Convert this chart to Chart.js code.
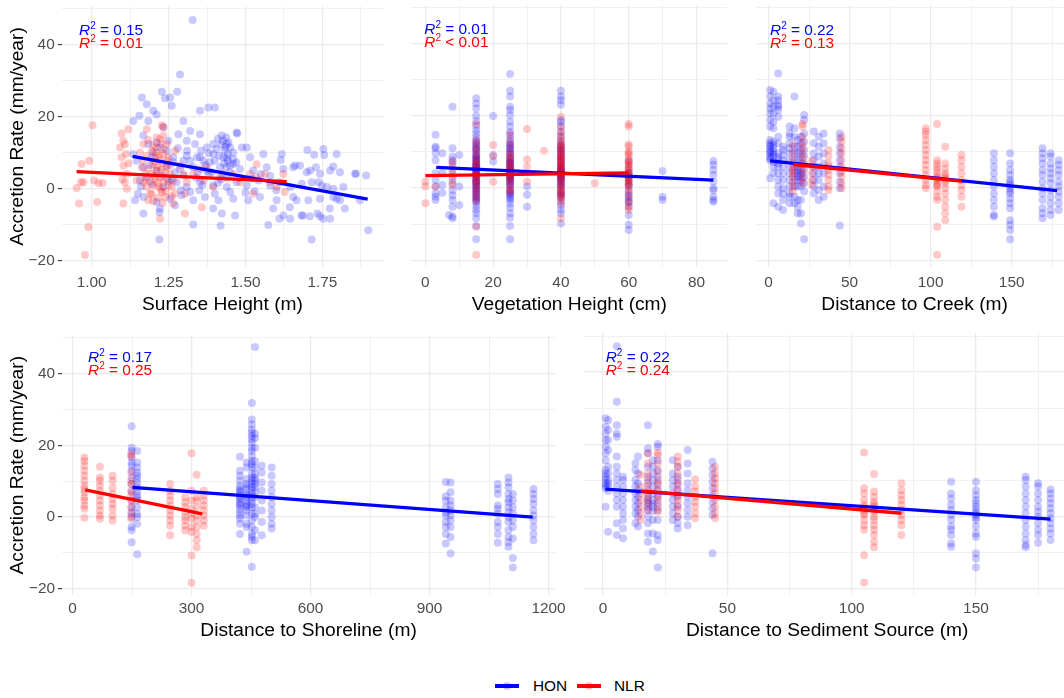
<!DOCTYPE html>
<html><head><meta charset="utf-8">
<script src="https://cdn.jsdelivr.net/npm/chart.js@4.4.0/dist/chart.umd.min.js"></script>
<style>
html,body{margin:0;padding:0;background:#fff;overflow:hidden;width:1064px;height:698px;position:relative;}
.wrap{position:absolute;}
.r2{position:absolute;font-family:'Liberation Sans',Arial,Helvetica,sans-serif;font-size:15.4px;line-height:18px;height:18px;white-space:nowrap;}
.r2 sup{font-size:10px;vertical-align:6px;line-height:0;}
.lg{position:absolute;font-family:'Liberation Sans',Arial,Helvetica,sans-serif;font-size:15.4px;line-height:18px;color:#000;}
</style></head><body>
<script>
// ---------------- DATA ----------------
const yMajor = [-20, 0, 20, 40];

// Panel 1: Surface Height (m)
const surfaceTicks = [1.00, 1.25, 1.50, 1.75];
const surfaceHON = [[1.328,46.9],[1.287,31.7],[1.278,26.9],[1.228,26.9],[1.163,25.3],[1.238,25.1],[1.255,25.3],[1.179,23.4],[1.26,23],[1.352,21.6],[1.379,22.5],[1.4,22.5],[1.2,21.6],[1.211,20.6],[1.155,20.2],[1.184,18.8],[1.298,18.8],[1.135,18.8],[1.233,17],[1.282,15.1],[1.32,16],[1.352,15.1],[1.471,15.6],[1.423,14.7],[1.168,14.7],[1.249,13.3],[1.309,13.3],[1.336,12.4],[1.374,11.4],[1.395,12.4],[1.439,12.4],[1.45,11.4],[1.488,11.4],[1.504,11.4],[1.558,9.6],[1.618,9.6],[1.723,9.4],[1.796,9.6],[1.753,11],[1.135,9.6],[1.146,7.7],[1.195,8.7],[1.265,8.7],[1.309,9.1],[1.352,8.7],[1.395,9.6],[1.428,8.7],[1.46,8.2],[1.515,8.7],[1.168,5.9],[1.211,5],[1.244,6.4],[1.287,5.4],[1.33,5.9],[1.374,5],[1.417,5.9],[1.45,6.4],[1.482,5.4],[1.525,5],[1.569,5.9],[1.623,5.4],[1.655,5.9],[1.677,6.4],[1.71,5],[1.742,4.1],[1.775,5],[1.807,4.5],[1.856,4.1],[1.892,3.6],[1.157,2.2],[1.195,1.3],[1.233,0.4],[1.276,1.7],[1.309,0.4],[1.352,1.7],[1.395,0.8],[1.439,0.4],[1.471,1.7],[1.504,0.8],[1.542,2.2],[1.58,0.8],[1.612,1.7],[1.645,0.4],[1.683,1.3],[1.715,1.7],[1.748,0.8],[1.785,-0.1],[1.818,0.4],[1.141,-3.3],[1.168,-2.4],[1.211,-3.8],[1.255,-2.9],[1.293,-1.9],[1.33,-3.3],[1.368,-2.4],[1.412,-3.3],[1.46,-2.9],[1.509,-3.3],[1.547,-2.4],[1.601,-3.3],[1.655,-2.4],[1.704,-3.3],[1.742,-2.9],[1.785,-2.4],[1.807,-3.3],[1.872,-3.3],[1.168,-7],[1.222,-5.6],[1.271,-4.7],[1.395,-5.6],[1.423,-7],[1.466,-7.5],[1.59,-5.6],[1.61,-8.4],[1.645,-8.4],[1.686,-7.5],[1.734,-7],[1.752,-8.4],[1.775,-8.4],[1.823,-5.6],[1.574,-10.2],[1.419,-10.4],[1.33,-10],[1.22,-6.6],[1.22,-14.2],[1.715,-14.2],[1.899,-11.6],[1.41,13.8],[1.42,12.2],[1.432,10.6],[1.443,9.6],[1.437,14.2],[1.426,13.3],[1.415,9.1],[1.443,7.7],[1.4,7.7],[1.384,7.3],[1.46,6.8],[1.437,5.9],[1.342,8.7],[1.363,7.7],[1.32,7.7],[1.298,7.7],[1.265,7.3],[1.244,10.5],[1.222,11.4],[1.211,12.8],[1.2,10],[1.184,12.4],[1.473,15.3],[1.614,7.9],[1.701,10.7],[1.756,9.3],[1.859,4.1],[1.661,6.4],[1.699,4.5],[1.729,5.9],[1.785,6.1],[1.737,1.7],[1.764,0.4],[1.796,-2.9],[1.774,-5.6],[1.742,-7.7],[1.709,-7.7],[1.682,-7.5],[1.644,-5.2],[1.623,-7.5],[1.666,-3.3],[1.26,2.5],[1.3,3.5],[1.34,3],[1.36,1],[1.38,3.8],[1.29,-0.5],[1.32,-1],[1.35,-0.5],[1.48,3],[1.52,2.8],[1.55,4],[1.58,3.5],[1.6,-0.5],[1.53,-0.8],[1.5,-1.2],[1.45,-1],[1.42,2.5],[1.4,-1.5],[1.435,11.5],[1.445,12.8],[1.44,8.5],[1.43,7],[1.45,4.5],[1.44,3],[1.41,1.5],[1.39,4.5],[1.37,6.5],[1.355,10.5],[1.345,4.5],[1.38,9.8],[1.405,11],[1.425,4],[1.46,10],[1.47,7.2],[1.31,10.5],[1.28,11.2],[1.27,4.5],[1.25,2],[1.23,3.5],[1.19,6.5],[1.18,3.2],[1.16,0.5],[1.15,-1.5]];
const surfaceNLR = [[0.951,0.1],[0.967,6.8],[0.965,1.7],[0.959,-4.2],[0.978,-18.5],[0.989,-10.7],[1.003,17.6],[0.992,7.7],[1.008,2.2],[1.018,-3.8],[1.022,1.5],[1.036,1.5],[0.973,1.7],[1.097,15.3],[1.103,13.3],[1.108,12.3],[1.097,8.7],[1.103,6.4],[1.114,4],[1.108,1.7],[1.114,-0.1],[1.103,-4.2],[1.119,16.5],[1.092,11.4],[1.112,9.6],[1.179,16.5],[1.228,17.6],[1.233,17],[1.222,13.7],[1.244,12.4],[1.211,11.4],[1.195,10.5],[1.179,9.1],[1.168,7.7],[1.163,5.9],[1.173,4],[1.168,1.7],[1.179,0.4],[1.19,-1.5],[1.184,-3.3],[1.2,6.8],[1.211,5],[1.222,3.1],[1.233,1.7],[1.217,0.4],[1.228,-1],[1.238,-2.4],[1.222,-8.4],[1.244,5.9],[1.255,4],[1.265,2.2],[1.26,0.4],[1.271,-1.5],[1.249,8.7],[1.271,10.5],[1.195,4],[1.206,2.7],[1.2,0.8],[1.238,4.5],[1.244,7.7],[1.206,8.7],[1.233,9.6],[1.287,6.4],[1.298,4],[1.309,1.7],[1.303,-1.5],[1.33,4],[1.352,5.4],[1.363,2.2],[1.303,-7],[1.265,-4.2],[1.358,-5.2],[1.395,0.4],[1.417,3.1],[1.46,4],[1.482,1.7],[1.515,4],[1.536,6.7],[1.536,3.1],[1.563,4],[1.58,1.7],[1.601,0.4],[1.628,-1],[1.623,4],[1.525,-1.5],[1.374,5.9],[1.168,12.4],[1.157,10],[1.146,2.2],[1.195,-1.5],[1.233,14.7],[1.211,14.2],[1.184,13.5],[1.215,6],[1.225,5.2],[1.23,7],[1.22,8],[1.205,3.5],[1.215,1.5],[1.225,-0.2],[1.19,2],[1.245,2.8],[1.25,1],[1.21,10],[1.22,9.2],[1.235,11],[1.2,12],[1.225,12.5],[1.215,-2.5],[1.2,-3.5],[1.24,-0.8],[1.255,6.5],[1.205,7.5],[1.185,5.5],[1.175,2.5],[1.23,-4],[1.26,-2.2],[1.12,7],[1.1,2.5]];
const surfaceFitHON = [[1.133,8.9],[1.897,-3.0]];
const surfaceFitNLR = [[0.951,4.7],[1.634,1.9]];

// Panel 2: Vegetation Height (cm)
const vegTicks = [0, 20, 40, 60, 80];
const vegHON = [[3,[14.7,11.4,11,9.6,7.7,4.1,2.2,0.4,-1.5,-2.4,-3.3]],[5,[9.6,4.1,0.8,-1.3]],[8,[22.5,11,8.7,7.7,6.8,5,3.1,1.3,-0.6,-2,-3.3,-5.2,-7.9,-8.4]],[7,[-7.5]],[10,[9.1,0.4,-4.7]],[15,[24.8,23.4,22,20,18.5,17.2,16,15,14,13,12,11,10.2,9.5,8.8,8,7.3,6.6,5.9,5.2,4.5,3.8,3.1,2.4,1.7,1,0.3,-0.5,-1.3,-2.2,-3,-4,-5,-6,-7,-8.4,-10.5,-14.2,0.8,1.5,2.8,3.5,4.8,5.5,6.2,7.8,9,10.6,11.5,12.5,-1.8,-3.5,-2.7,0,6,8.3,-0.9,4.2,2,7]],[20,[19.9,9.1,7.3]],[25,[31.5,26.9,25.3,22.5,21.6,20.2,18.4,17,15.5,14.5,13.5,12.5,11.6,10.8,10,9.2,8.4,7.6,6.8,6,5.2,4.4,3.6,2.8,2,1.2,0.4,-0.5,-1.4,-2.3,-3.3,-4.3,-5.5,-7,-8.2,-10.5,-14.2,0.8,1.6,2.4,3.2,4,4.8,5.6,6.4,7.2,8,9.6,11,12,-1,-1.8,-2.8,3,5,7]],[30,[0.4,-1.9,-5.2]],[40,[26.9,25.3,24.3,23,18.8,18.3,17,15.5,14.2,13,12,11,10,9,8,7,6,5.2,4.4,3.6,2.8,2,1.2,0.4,-0.6,-1.6,-2.6,-3.7,-4.8,-6,-7,-9.8,0.8,1.6,2.4,3.2,4,4.8,5.6,6.5,7.5,8.5,9.5,10.5,11.5,-1.1,-2.1,3,5]],[60,[7.5,5.5,3.5,2,0.5,-1,-2.5,-4,-5.2,-7.5,-10.2,-11.6,-2,-3.5,1,2.8,4.2]],[70,[4.7,-2.4,-3.3]],[85,[7.5,6.4,5,3.6,1.7,-0.1,-0.6,-2.4,-3.3,-3.8]]];
const vegNLR = [[0,[1.7,0.4,-4.2]],[3,[0.4]],[8,[7.3,5.9,4.1,2.2,0.8]],[15,[17.7,13.2,12,11,10,9,8,7.2,6.4,5.6,4.8,4,3.2,2.4,1.6,0.8,0,-0.8,-1.6,-2.6,-3.6,-10.7,-18.5,3.6,5.2,6.8,2,4.4]],[20,[11.9,8.8,1.7]],[25,[15,13,11.5,10,9,8,7,6,5,4,3,2,1,0,-0.6,-1.2,2.5,4.5,6.5,8.5,3.5,5.5]],[30,[16.3,7.9,5.9,1.7]],[35,[10.3]],[40,[19.7,17,15.5,14.5,13.5,12.5,11.5,10.5,9.5,8.6,7.8,7,6.2,5.4,4.6,3.8,3,2.2,1.4,0.6,-0.2,-1,-2,-3,-4.2,-8.4,2.5,3.4,4.2,5,5.8,6.6,7.4,8.2,9,10,11,12,0.2,-1.4,-2.5]],[50,[1.3]],[60,[17.7,17,12,11.5,9.6,9.1,7.3,6.4,5,4.1,3.2,2.3,1.4,0.5,-0.5,-1.5,-5.2,-6.1,1,2,3,4,5,6,7,8,10,-3,-4]]];
const vegFitHON = [[3.2,5.7],[85,2.2]];
const vegFitNLR = [[0,3.4],[60,4.2]];

// Panel 3: Distance to Creek (m)
const creekTicks = [0, 50, 100, 150];
const creekHON = [[1,[27.1,25.3,23.4,22,20.6,18.8,17,13.3,12.4,11.4,10.5,9.6,8.7,7.7,2.7,10,11.8,8.2]],[3,[26.6,24.3,22.5,20.6,18.3,16.5,12.8,11.9,11,10,8.7,5.9,4.1,-4.2,9.3,7.2]],[6,[31.7,25.3,24.3,23,22.5,21.6,19.7,14.2,12.4,9.6,7.7,5.9,4.1,2.2,0.4,-1.5,-5.2,8.5,6.8]],[9,[11.4,10.5,9.1,7.7,5.9,4.1,2.2,-0.1,-1.5,-3.3,-6.1]],[13,[17,15.1,14.2,12.4,11,9.6,7.7,5.9,4.1,2.2,0.4,-1.5,-2.4,-4.2]],[16,[25.3,16.5,14.2,11.4,9.6,7.7,5.9,4.1,2.2,0.4,-2.4,-4.2]],[18,[13.3,11.4,9.6,7.7,5.9,4.1,2.2,0.4,-3.3,-5.2,-7,3.2,5]],[20,[14.2,12.4,10.5,8.7,6.8,5,3.1,0.4,-3.3,-7,-9.8,4,2]],[22,[20.2,18.8,15.1,12.8,10.5,8.7,6.8,5,3.1,1.3,-1,-14.2]],[28,[15.6,12.4,9.6,7.7,5.9,4.1,2.2,0.4,-1.5]],[31,[14.2,11.4,8.7,5.9,4.1,2.2,-0.6,-3.3]],[34,[15.1,12.4,9.6,6.8,4.1,0.4,-2.4]],[44,[15.1,13.7,11.4,9.6,7.7,5.9,4.1,1.7,-0.1,-10.4]],[139,[9.6,7.7,5.9,4.1,2.2,0.4,-1.5,-3.3,-5.2,-7.5,-7.9]],[149,[9.6,6.8,5,3.6,2.2,0.8,-0.1,-1.5,-2.9,-4.2,-5.6,-8.9,-10.2,-11.6,-14.2,1.5,-0.8]],[169,[11,9.6,8.2,6.8,5,3.6,1.7,-0.1,-1.5,-3.3,-5.6,-7,-8.4]],[174,[9.6,8.7,6.8,5.4,4.1,2.7,1.3,-0.6,-2.4,-4.2,-6.1,-7.5]],[179,[7.7,6.4,5,3.6,1.7,0.4,-1,-2.4,-4.2,-6.1]]];
const creekNLR = [[15,[11.9,9.6,7.7,5.9,5,4.1,3.1,1.7,0.4,-1]],[21,[17.7,17,14.2,12.4,11,9.6,8.2,6.8,5.4,4.1,2.7,1.3]],[27,[7.7,5.9,4.1,2.2,0.8]],[37,[10.5,8.7,6.8,5.9,5,3.6,2.2,0.4,-0.6]],[45,[14.2,12.8,11,9.6,7.7,5.9,4.5,3.1,1.3,-0.1]],[97,[16.5,15.6,14.7,13.3,11.9,10.5,9.1,7.7,6.4,5,3.6,2.2,0.8,-0.1]],[104,[17.7,7.7,6.8,5.9,5,4.1,3.1,2.2,1.3,0.4,-1,-2.4,-3.3,-10.7,-18.5,2.7,0.8]],[109,[11.4,6.8,5.4,4.1,2.7,1.3,-0.1,-1.5,-3.3,-5.2,-7,-8.9,3.4,2]],[119,[9.1,7.7,5.9,4.1,2.2,0.8,-0.6,-2.4,-5.2]]];
const creekFitHON = [[1,7.5],[178,-0.7]];
const creekFitNLR = [[15.2,6.5],[119,1.9]];

// Panel 4: Distance to Shoreline (m)
const shoreTicks = [0, 300, 600, 900, 1200];
const shoreHON = [[149,[25.3,19.3,18.4,16.6,15.2,14.3,12.9,11,9.2,6.9,4.6,2.7,1.3,0,-2.8,-3.7,-7]],[163,[18.4,15.2,13.8,12.4,10.6,8.3,6,4.6,2.7,0.9,0,-1.9,-10.4,11.5,9.5,7.2,5.3]],[422,[16.8,12.9,11.5,10.1,8.7,7.8,6.9,6,5,4.1,3.2,2.3,1.3,0.4,-0.5,-1.9,-4.7,7.3,5.5,3.6]],[439,[15.2,13.8,10.6,9.2,7.8,6.4,5.5,4.6,3.6,2.7,1.8,0.4,-1.9,-2.8,-9.7,8.5,6,3.1]],[452,[31.8,27.2,25.8,24.4,23.5,22.6,21.7,20.7,19.3,18.4,17,15.6,13.8,12,10.1,8.3,6.4,4.6,2.7,0.9,-1,-2.8,-4.7,-5.6,-6.5,-13.9,11,9.2,7.3,5.5,3.6,14.8]],[460,[47.4,19.3,15.6,13.8,12,10.1,8.3,5.5,2.7,0.9,0,-3.7,-6.5,22,23.2,10.9,9.2,7]],[477,[14.3,12.4,9.6,7.3,4.6,1.8,-1.4,-5.1]],[502,[13.8,11.5,9.2,7.3,5.5,3.6,1.8,0,-1.9,-3.2]],[941,[9.8,5.8,4.6,2.7,1.3,0.4,-1.4,-2.8,-4.7,-7.4]],[953,[9.6,6.9,4.6,3.2,1.8,0.4,-1,-2.8,-5.6,-10.2]],[1072,[9.2,7.8,6.4,3.2,2.3,0.9,-1.4,-2.8,-4.7,-7.2]],[1099,[11,9.6,8.3,6.4,5,4.1,2.7,1.3,0,-1.4,-3.7,-5.6,-7,-8.3]],[1110,[6.4,4.6,2.7,0.9,-1,-2.8,-6,-11.4,-14.1]],[1162,[7.8,6.4,5,3.6,1.8,0.4,-1,-2.8,-4.7,-6.5]]];
const shoreNLR = [[30,[16.6,15.6,14.3,12.9,11.5,10.1,8.7,7.8,6.9,5.5,4.6,3.2,2.3,-0.2]],[69,[14,11,10.1,8.7,7.3,6,4.6,3.2,1.8,0.4,-0.5]],[101,[11.5,10.1,8.1,6.4,5,3.6,2.3,0.4,-1]],[148,[17.5,17,12.4,10.1,9.2,7.3,6,4.6,2.7,0.9,-0.5]],[246,[9.2,7.3,6,4.6,3.2,1.8,0.4,-1,-2.4,-5.1]],[284,[5.5,4.1,2.8,1.4,0,-1,-2.4,-3.7]],[300,[17.8,7.3,4.6,2.3,0.9,-0.5,-2.8,-4.2,-10.7,-18.3]],[313,[11.8,5.5,4.6,2.7,0.4,-1,-2.8,-4.7,-6.5,-8.4]],[331,[7.3,6,4.6,3.2,1.8,0.4,-1,-2.4]]];
const shoreFitHON = [[151,8.3],[1160,0]];
const shoreFitNLR = [[32,7.6],[327,0.9]];

// Panel 5: Distance to Sediment Source (m)
const sedTicks = [0, 50, 100, 150];
const sedHON = [[1,[27.2,24.9,23,21.2,19.3,17.5,15.6,12.9,11.9,11,9.2,7.8,2.7,10.2,8.5]],[2,[26.7,24,21.2,18.4,13.8,11.9,10.1,8.3,-4.2,9.2,7.1]],[5.5,[47.2,31.8,25.3,23,22.1,16.6,13.8,11.9,10.1,8.3,6.4,4.6,2.7,-1.9,-5.1]],[8,[11,10.1,8.3,6.4,4.6,2.7,0.9,-1,-3.3,-6]],[13,[14.7,12.9,10.1,8.3,6.4,4.6,2.7,0.9,-1.9]],[14,[16.6,11.9,9.2,7.3,5.5,3.7,1.8,-0.1,-2.8]],[18,[25.3,18.9,17.5,13.8,11,9.2,7.3,5.5,3.7,1.8,-0.1,-1.9,-4.7,-7,4.5,2.7]],[20,[15.6,13.8,11.9,10.1,8.3,6.4,4.6,2.7,-1,-4.7,-9.7,3.6,1.5]],[22,[20.1,19.3,15.6,12.9,11,9.2,7.3,5.5,3.7,1.8,-1,-5.1,-6.5,-14.1]],[28,[15.6,11.9,10.1,8.3,6.4,4.6,2.7,0.9,-1]],[30,[13.8,11,9.2,7.3,5.5,2.7,-0.1,-1.9,-3.3]],[34,[18.4,14.7,11.9,9.2,7.3,5.5,3.7,1.8,-0.1,-2.4]],[44,[15.2,13.3,11.5,9.6,7.8,5.9,4.1,2.3,0.4,-10.2]],[140,[9.6,6.4,5,3.2,1.8,0.4,-1,-2.8,-3.7,-5.1,-7.4,-8.4]],[150,[9.6,7.3,5.9,4.6,3.7,2.7,1.8,0.4,-1,-2.8,-4.7,-5.6,-10.2,-11.6,-14.1,1,-0.3]],[170,[11,10.1,8.3,6.4,4.6,2.7,0.9,-1,-2.8,-4.7,-6.5,-7.9,-8.5]],[175,[9.2,8.3,6.4,4.6,2.7,1.3,-0.1,-1.9,-3.7,-5.1,-7.3]],[180,[7.5,6.4,5,3.7,2.3,0.9,-0.5,-1.9,-3.3,-4.7,-6.5]]];
const sedNLR = [[15,[11.5,8.3,6.4,4.6,2.7,0.9,-1]],[18,[17.5,14.7,11.9,10.1,8.3,6.4,5,3.7,1.8]],[22,[17.7,17,14.7,12.4,10.1,8.7,7.3,5.9,4.6,2.7,1.3]],[30,[16.6,15.2,13.8,11.9,10.1,8.7,7.3,5.9,4.6,3.2,1.8,-0.1]],[37,[10.3,8.3,6.9,5.5,4.1,2.7,0.9,-0.5]],[45,[13.8,11.9,10.6,9.2,7.8,6.4,4.6,2.7,0.9,-0.5]],[105,[17.7,7.8,6.4,4.6,3.2,1.8,0.4,-1,-2.4,-3.7,-10.7,-18.3,2.5,1]],[109,[11.8,6.9,5.5,4.1,2.7,1.3,-0.1,-1,-2.4,-3.7,-5.1,-7,-8.5,3.4,2]],[120,[9.2,7.3,5.9,4.6,3.2,1.8,0.4,-1,-2.4,-5.1]]];
const sedFitHON = [[0.9,7.6],[180,-0.7]];
const sedFitNLR = [[15.2,7.1],[120,0.9]];

// R-squared annotations
const r2HON = ['= 0.15', '= 0.01', '= 0.22', '= 0.17', '= 0.22'];
const r2NLR = ['= 0.01', '< 0.01', '= 0.13', '= 0.25', '= 0.24'];
const seriesNames = ['HON', 'NLR'];

// ---------------- RENDER ----------------
const FONT = "'Liberation Sans', Arial, Helvetica, sans-serif";
const BLUE = '#0000FF', RED = '#FF0000';
const BLUE_A = 'rgba(0,0,255,0.21)', RED_A = 'rgba(255,0,0,0.21)';
const cols = c => { const o = []; c.forEach(([x, ys]) => ys.forEach(y => o.push({x, y}))); return o; };
const pairs = a => a.map(([x, y]) => ({x, y}));
const near = (v, arr) => arr.some(t => Math.abs(t - v) < 1e-6);
const fmt = (v, d) => (v < 0 ? '\u2212' : '') + Math.abs(v).toFixed(d);

const ROWS = {
  top: {plotTop: 4.7, plotBottom: 266.8, labelOff: 15.5, titleOff: 37.7},
  bottom: {plotTop: 333.5, plotBottom: 595.2, labelOff: 14.0, titleOff: 36.0}
};

function panel(p) {
  const row = ROWS[p.row];
  const yW = p.leftAxis ? p.plotLeft : 0;
  const wrapLeft = Math.floor(p.plotLeft - yW);
  const padLeft = (p.plotLeft - yW) - wrapLeft;
  const wrapTop = Math.floor(row.plotTop - 10);
  const padTop = row.plotTop - wrapTop;
  const W = Math.ceil(p.plotRight + 24) - wrapLeft;
  const padRight = wrapLeft + W - p.plotRight;
  const H = Math.ceil(row.plotBottom + 52) - wrapTop;
  const xH = wrapTop + H - row.plotBottom;
  const d = document.createElement('div');
  d.className = 'wrap';
  d.style.cssText = `left:${wrapLeft}px;top:${wrapTop}px;width:${W}px;height:${H}px;`;
  const cv = document.createElement('canvas');
  cv.width = W; cv.height = H; cv.style.width = W + 'px'; cv.style.height = H + 'px';
  d.appendChild(cv); document.body.appendChild(d);
  const gridColor = '#EBEBEB';
  new Chart(cv, {
    type: 'scatter',
    data: { datasets: [
      {label: 'NLR fit', data: pairs(p.fitNLR), showLine: true, borderColor: RED, borderWidth: 3.3, pointRadius: 0, fill: false},
      {label: 'HON fit', data: pairs(p.fitHON), showLine: true, borderColor: BLUE, borderWidth: 3.3, pointRadius: 0, fill: false},
      {label: 'NLR', data: p.nlr, backgroundColor: RED_A, borderWidth: 0, pointRadius: 4},
      {label: 'HON', data: p.hon, backgroundColor: BLUE_A, borderWidth: 0, pointRadius: 4}
    ]},
    options: {
      responsive: false, animation: false, events: [],
      layout: {padding: {left: padLeft, top: padTop, right: padRight, bottom: 0}},
      plugins: {legend: {display: false}, tooltip: {enabled: false}},
      scales: {
        x: {
          type: 'linear', min: p.xmin, max: p.xmax,
          afterFit: s => { s.height = xH; },
          border: {display: false},
          grid: {
            drawTicks: false,
            color: gridColor,
            lineWidth: c => near(c.tick.value, p.ticks) ? 1.3 : 0.7
          },
          ticks: {
            stepSize: p.step, includeBounds: false, autoSkip: false, maxRotation: 0,
            padding: row.labelOff - 9.24, color: '#4D4D4D', font: {family: FONT, size: 15.4},
            callback: v => near(v, p.ticks) ? fmt(v, p.dec) : ''
          },
          title: {display: true, text: p.title, color: '#000', font: {family: FONT, size: 19.2},
                  padding: {top: 0, bottom: xH - row.titleOff - 11.52}}
        },
        y: {
          type: 'linear', min: -21.8, max: 50.7,
          afterFit: s => { s.width = yW; },
          border: {display: false},
          grid: {
            drawTicks: p.leftAxis, tickLength: 4, tickWidth: 1.1,
            tickColor: c => near(c.tick.value, yMajor) ? '#333333' : 'rgba(0,0,0,0)',
            color: gridColor,
            lineWidth: c => near(c.tick.value, yMajor) ? 1.3 : 0.7
          },
          ticks: {
            display: p.leftAxis, stepSize: 10, includeBounds: false, padding: 3,
            color: '#4D4D4D', font: {family: FONT, size: 15.4},
            callback: v => near(v, yMajor) ? fmt(v, 0) : ''
          },
          title: {display: p.leftAxis, text: 'Accretion Rate (mm/year)', color: '#000',
                  font: {family: FONT, size: 19.2}, padding: {top: 6.5, bottom: 0}}
        }
      }
    }
  });
  // R² labels
  const mk = (txt, color, cy) => {
    const e = document.createElement('div');
    e.className = 'r2';
    e.style.cssText += `left:${p.r2x}px;top:${cy - 9}px;color:${color};`;
    e.innerHTML = `<i>R</i><sup>2</sup> ${txt}`;
    document.body.appendChild(e);
  };
  mk(r2HON[p.idx], BLUE, p.r2y);
  mk(r2NLR[p.idx], RED, p.r2y + 13);
}

panel({idx: 0, row: 'top', leftAxis: true, plotLeft: 61.7, plotRight: 383.2, xmin: 0.9025, xmax: 1.9475, step: 0.125, ticks: surfaceTicks, dec: 2,
  title: 'Surface Height (m)', hon: pairs(surfaceHON), nlr: pairs(surfaceNLR), fitHON: surfaceFitHON, fitNLR: surfaceFitNLR, r2x: 79, r2y: 29.5});
panel({idx: 1, row: 'top', leftAxis: false, plotLeft: 407.1, plotRight: 727.8, xmin: -4.25, xmax: 89.25, step: 10, ticks: vegTicks, dec: 0,
  title: 'Vegetation Height (cm)', hon: cols(vegHON), nlr: cols(vegNLR), fitHON: vegFitHON, fitNLR: vegFitNLR, r2x: 424.3, r2y: 28.5});
panel({idx: 2, row: 'top', leftAxis: false, plotLeft: 752.4, plotRight: 1073.3, xmin: -7.7, xmax: 188, step: 25, ticks: creekTicks, dec: 0,
  title: 'Distance to Creek (m)', hon: cols(creekHON), nlr: cols(creekNLR), fitHON: creekFitHON, fitNLR: creekFitNLR, r2x: 770, r2y: 29.5});
panel({idx: 3, row: 'bottom', leftAxis: true, plotLeft: 62, plotRight: 555.1, xmin: -26.5, xmax: 1216.5, step: 150, ticks: shoreTicks, dec: 0,
  title: 'Distance to Shoreline (m)', hon: cols(shoreHON), nlr: cols(shoreNLR), fitHON: shoreFitHON, fitNLR: shoreFitNLR, r2x: 88, r2y: 357});
panel({idx: 4, row: 'bottom', leftAxis: false, plotLeft: 580, plotRight: 1070.4, xmin: -7.7, xmax: 188, step: 25, ticks: sedTicks, dec: 0,
  title: 'Distance to Sediment Source (m)', hon: cols(sedHON), nlr: cols(sedNLR), fitHON: sedFitHON, fitNLR: sedFitNLR, r2x: 605.7, r2y: 357});

// Legend
function legendItem(x0, textX, color, fillA, name) {
  const dot = document.createElement('div');
  dot.style.cssText = `position:absolute;left:${x0 + 12 - 4}px;top:${686 - 4}px;width:8px;height:8px;border-radius:50%;background:${fillA};`;
  const ln = document.createElement('div');
  ln.style.cssText = `position:absolute;left:${x0}px;top:${686 - 1.7}px;width:24px;height:3.4px;background:${color};`;
  const t = document.createElement('div');
  t.className = 'lg';
  t.style.cssText += `left:${textX}px;top:${686 - 9}px;`;
  t.textContent = name;
  document.body.appendChild(dot); document.body.appendChild(ln); document.body.appendChild(t);
}
legendItem(495, 533, BLUE, BLUE_A, seriesNames[0]);
legendItem(577, 614, RED, RED_A, seriesNames[1]);
</script>
</body></html>
